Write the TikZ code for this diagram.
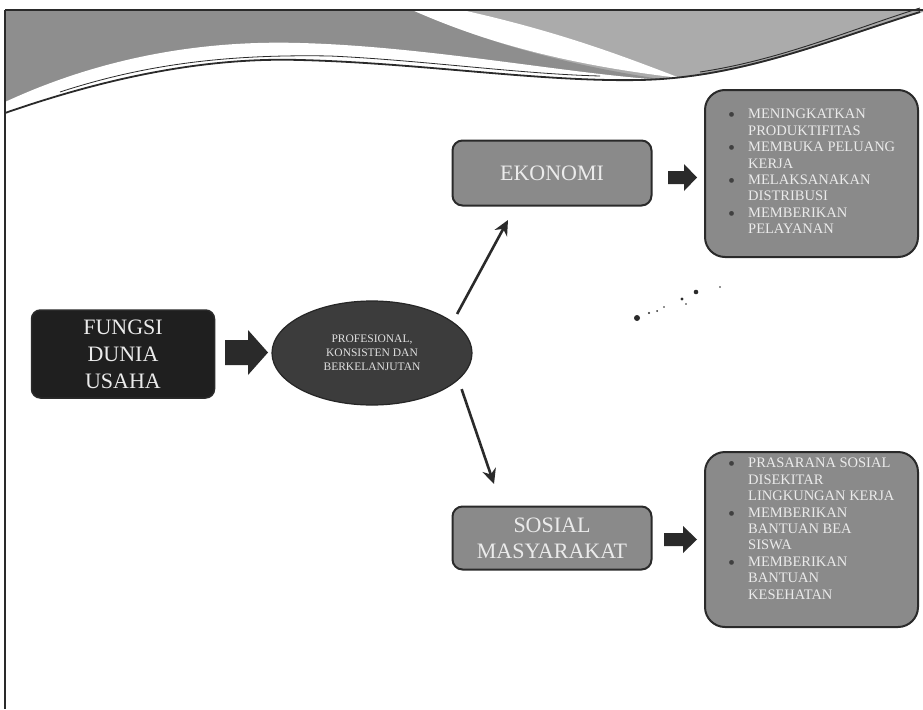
\documentclass[tikz,border=0pt]{standalone}
\usepackage{fontspec}
\setmainfont{Liberation Serif}
\usetikzlibrary{arrows.meta,shapes.geometric}
\definecolor{bandL}{HTML}{8E8E8E}
\definecolor{bandR}{HTML}{ABABAB}
\definecolor{boxgray}{HTML}{8A8A8A}
\definecolor{ellgray}{HTML}{3C3C3C}
\definecolor{inkdark}{HTML}{2A2A2A}
\tikzset{
  darkbox/.style={draw=inkdark, line width=1.5pt, fill=black!88, rounded corners=9pt, minimum width=183pt, minimum height=88pt, text=white!92!black, font=\fontsize{22}{27}\selectfont, align=center, inner sep=0pt},
  graybox/.style={draw=inkdark, line width=2pt, fill=boxgray, rounded corners=10pt, minimum width=199pt, text=white!92!black, font=\fontsize{22}{26}\selectfont, align=center, inner sep=0pt},
  listbox/.style={draw=inkdark, line width=2pt, fill=boxgray, rounded corners=20pt, minimum width=213pt, inner sep=0pt},
  listtext/.style={text=white!92!black, font=\fontsize{14.5}{16.4}\selectfont, align=left, inner sep=0pt, anchor=north west},
  thinarrow/.style={draw=inkdark, line width=2.6pt, -{Stealth[length=15pt,width=14pt]}},
  blockarrow/.style={fill=inkdark, draw=none},
  frameline/.style={draw=inkdark, line width=1.4pt},
}
\newcommand{\bl}{\makebox[20pt][l]{\raisebox{-3pt}{\fontsize{20}{11}\selectfont\color{black!75}\textbullet}}}
\newcommand{\ind}{\hspace*{20pt}}
\begin{document}
\begin{tikzpicture}[x=1pt,y=-1pt]
\useasboundingbox (0,0) rectangle (923,709);
\fill[white] (0,0) rectangle (923,709);
% ---- top wave band ----
\fill[bandR] (5,10) -- (923,10) -- (923,12)
  .. controls (830,40) and (740,80) .. (640,80)
  .. controls (540,82) and (420,63) .. (300,60)
  .. controls (200,57) and (100,80) .. (5,113) -- cycle;
\fill[bandL] (5,10) -- (412,10)
  .. controls (480,40) and (560,64) .. (660,79)
  -- (640,80) .. controls (540,82) and (420,63) .. (300,60)
  .. controls (200,57) and (100,80) .. (5,113) -- cycle;
\fill[white] (5,102) .. controls (100,58) and (200,40) .. (300,43)
  .. controls (420,46) and (560,72) .. (650,79)
  -- (640,80) .. controls (540,82) and (420,63) .. (300,60)
  .. controls (200,57) and (100,80) .. (5,113) -- cycle;
\fill[white] (412,10) -- (462,10)
  .. controls (560,32) and (620,55) .. (680,78)
  .. controls (560,64) and (480,40) .. (412,10) -- cycle;
\draw[inkdark, line width=1.8pt] (5,113) .. controls (100,80) and (200,57) .. (300,60)
  .. controls (420,63) and (540,82) .. (640,80)
  .. controls (740,78) and (830,40) .. (920,12);
\draw[inkdark, line width=0.8pt] (60,92) .. controls (140,66) and (220,54) .. (330,56)
  .. controls (420,60) and (520,74) .. (600,76);
\draw[inkdark, line width=0.9pt] (700,72) .. controls (780,60) and (850,30) .. (920,8);
% ---- frame ----
\draw[frameline] (5,10) -- (923,10);
\draw[frameline] (5,10) -- (5,709);
% ---- nodes ----
\node[darkbox] (fungsi) at (123,354) {FUNGSI\\DUNIA\\USAHA};
\node[ellipse, draw=black!85, line width=1.2pt, fill=ellgray, minimum width=200pt, minimum height=104pt, inner sep=0pt,
      text=white!88!black, font=\fontsize{11.5}{14}\selectfont, align=center] (ell) at (372,353)
      {PROFESIONAL,\\KONSISTEN DAN\\BERKELANJUTAN};
\node[graybox, minimum height=65pt] (eko) at (552,173) {EKONOMI};
\node[graybox, minimum height=63pt] (sos) at (552,538) {SOSIAL\\MASYARAKAT};
\node[listbox, minimum height=167pt] (list1) at (811.5,173.5) {};
\node[listbox, minimum height=175pt] (list2) at (811.5,539.5) {};
\node[listtext] (t1) at (728,109) {%
\bl MENINGKATKAN\\ \ind PRODUKTIFITAS\\ \bl MEMBUKA PELUANG\\ \ind KERJA\\
\bl MELAKSANAKAN\\ \ind DISTRIBUSI\\ \bl MEMBERIKAN\\ \ind PELAYANAN};
\node[listtext] (t2) at (728,458) {%
\bl PRASARANA SOSIAL\\ \ind DISEKITAR\\ \ind LINGKUNGAN KERJA\\ \bl MEMBERIKAN\\
\ind BANTUAN BEA\\ \ind SISWA\\ \bl MEMBERIKAN\\ \ind BANTUAN\\ \ind KESEHATAN};
% ---- block arrows ----
\fill[blockarrow] (225,340) -- (248,340) -- (248,330) -- (268,352.5) -- (248,375) -- (248,365) -- (225,365) -- cycle;
\fill[blockarrow] (668,171) -- (684,171) -- (684,164) -- (697,177.5) -- (684,191) -- (684,184) -- (668,184) -- cycle;
\fill[blockarrow] (664,533) -- (683,533) -- (683,526) -- (697,539.5) -- (683,553) -- (683,546) -- (664,546) -- cycle;
% ---- thin arrows ----
\coordinate (upend) at (508,220);
\coordinate (downend) at (494,484);
\draw[thinarrow] ([shift={(10,-4)}]ell.25) -- (upend);
\draw[thinarrow] ([shift={(10,4)}]ell.-22) -- (downend);
% ---- speckles ----
\fill[inkdark] (637,318) circle (3pt);
\fill[inkdark] (696,292) circle (2.3pt);
\fill[inkdark] (682,299) circle (1.6pt);
\fill[inkdark] (649,313) circle (1.2pt);
\fill[inkdark] (657,311) circle (1pt);
\fill[inkdark] (664,307) circle (0.9pt);
\fill[inkdark] (686,304) circle (0.9pt);
\fill[inkdark] (720,287) circle (0.9pt);
\end{tikzpicture}
\end{document}
